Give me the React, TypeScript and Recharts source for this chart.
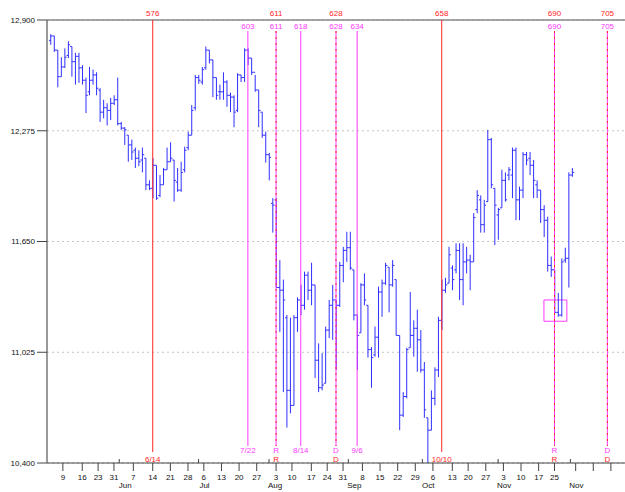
import {
  Bar,
  CartesianGrid,
  ComposedChart,
  ReferenceArea,
  ReferenceLine,
  XAxis,
  YAxis,
} from 'recharts';

// bar numbers run from firstBar, one per trading day
const firstBar = 547;

const highs = [
  12820, 12810, 12730, 12690, 12740, 12780, 12750, 12715, 12715, 12645,
  12575, 12635, 12620, 12605, 12515, 12450, 12430, 12460, 12475, 12575,
  12325, 12295, 12250, 12225, 12180, 12165, 12180, 12120, 11995, 12120,
  12080, 12025, 12065, 12180, 12210, 12110, 12065, 12100, 12185, 12270,
  12420, 12590, 12590, 12635, 12750, 12730, 12675, 12575, 12535, 12605,
  12560, 12490, 12475, 12600, 12590, 12740, 12740, 12685, 12590, 12505,
  12380, 12270, 12150, 11895, 11895, 11545, 11435, 11235, 11220, 11235,
  11335, 11405, 11480, 11480, 11530, 11405, 11075, 11020, 11170, 11320,
  11405, 11320, 11535, 11620, 11705, 11705, 11490, 11235, 11415, 11470,
  11290, 11055, 11170, 11395, 11435, 11530, 11505, 11545, 11435, 11120,
  10800, 11050, 11365, 11205, 11265, 11150, 10970, 10655, 10810, 10940,
  11225, 11435, 11445, 11620, 11515, 11640, 11640, 11640, 11620, 11575,
  11810, 11940, 11910, 11885, 12280, 12235, 11950, 11840, 12055, 12040,
  12070, 12180, 12180, 11960, 12155, 12155, 12155, 12110, 11995, 11940,
  11855, 11790, 11565, 11490, 11360, 11555, 11615, 12040, 12065,
];

const lows = [
  12760, 12720, 12520, 12580, 12630, 12685, 12580, 12535, 12545, 12535,
  12375, 12475, 12535, 12475, 12325, 12345, 12305, 12335, 12420, 12305,
  12280, 12195, 12100, 12110, 12065, 12075, 12040, 11940, 11940, 11895,
  11885, 11900, 11970, 12055, 12100, 11875, 11930, 11930, 12040, 12165,
  12250, 12390, 12540, 12535, 12620, 12655, 12465, 12450, 12450, 12450,
  12410, 12380, 12295, 12380, 12550, 12550, 12645, 12590, 12495, 12295,
  12235, 12095, 11995, 11700, 11390, 11140, 10800, 10600, 10680, 10725,
  11140, 11235, 11265, 11320, 11290, 10880, 10800, 10810, 10850, 11105,
  11095, 10925, 11280, 11420, 11535, 11490, 11205, 10925, 11135, 11290,
  10995, 10825, 11000, 10995, 11225, 11405, 11250, 11395, 11120, 10585,
  10660, 10765, 11050, 11000, 10915, 10910, 10655, 10305, 10585, 10725,
  10885, 11150, 11360, 11415, 11375, 11470, 11320, 11290, 11470, 11375,
  11535, 11810, 11700, 11700, 11875, 11950, 11630, 11660, 11840, 11875,
  11995, 11895, 11770, 11770, 11895, 12080, 12025, 11895, 11895, 11755,
  11675, 11480, 11450, 11245, 11225, 11225, 11530, 11390, 12015,
];

const opens = [
  12785, 12810, 12730, 12580, 12635, 12700, 12750, 12665, 12695, 12630,
  12560, 12495, 12560, 12590, 12505, 12380, 12405, 12390, 12430, 12450,
  12315, 12290, 12250, 12195, 12165, 12120, 12110, 12120, 11970, 11950,
  12080, 11910, 11970, 12055, 12100, 12110, 11985, 11940, 12055, 12180,
  12250, 12405, 12575, 12550, 12630, 12730, 12675, 12575, 12495, 12495,
  12550, 12475, 12465, 12390, 12590, 12575, 12730, 12685, 12605, 12505,
  12380, 12250, 12140, 11865, 11885, 11390, 11375, 11220, 10810, 10725,
  11220, 11320, 11290, 11460, 11375, 11405, 10980, 10825, 10850, 11150,
  11290, 11320, 11290, 11515, 11600, 11615, 11490, 11235, 11135, 11405,
  11290, 11040, 11010, 11110, 11365, 11415, 11505, 11405, 11435, 11120,
  10670, 10775, 11050, 11120, 11160, 11095, 10925, 10655, 10585, 10765,
  10925, 11205, 11375, 11415, 11500, 11490, 11600, 11435, 11535, 11545,
  11535, 11830, 11885, 11745, 11875, 12225, 11950, 11800, 11840, 11995,
  12025, 12025, 12165, 11885, 11940, 12140, 12120, 12080, 11970, 11940,
  11830, 11770, 11515, 11490, 11250, 11235, 11545, 11555, 12025,
];

const closes = [
  12810, 12730, 12580, 12635, 12690, 12760, 12665, 12695, 12630, 12560,
  12475, 12560, 12590, 12515, 12380, 12405, 12390, 12430, 12450, 12315,
  12290, 12280, 12195, 12155, 12120, 12100, 12140, 11970, 11950, 12080,
  11895, 11970, 12055, 12100, 12120, 11995, 11940, 12040, 12165, 12250,
  12390, 12575, 12560, 12620, 12730, 12675, 12575, 12475, 12495, 12550,
  12475, 12465, 12380, 12590, 12575, 12730, 12685, 12605, 12505, 12390,
  12250, 12140, 12125, 11855, 11390, 11375, 11320, 10810, 10725, 11220,
  11320, 11290, 11460, 11375, 11405, 10980, 10825, 10840, 11150, 11290,
  11320, 11290, 11515, 11600, 11615, 11500, 11235, 11120, 11405, 11320,
  11040, 10995, 11110, 11365, 11415, 11515, 11405, 11515, 11120, 10670,
  10775, 11040, 11120, 11160, 11095, 10925, 10700, 10585, 10765, 10925,
  11205, 11375, 11405, 11575, 11435, 11600, 11435, 11535, 11545, 11535,
  11785, 11910, 11745, 11855, 12225, 11970, 11855, 11830, 11995, 11885,
  12055, 12165, 11885, 11940, 12140, 12110, 12080, 11995, 11940, 11830,
  11770, 11515, 11490, 11250, 11235, 11535, 11555, 12025, 12040,
];

const yTicks = [10400, 11025, 11650, 12275, 12900];

// weekly ticks (bar positions) and their day labels
const weekTicks = [
  550.5, 556, 560.5, 565, 570.5, 576, 581, 586, 590.5, 595.5, 600.5, 605.5,
  611, 615.5, 621, 625.5, 630, 635.5, 640.5, 645.5, 650.5, 655.5, 661, 665.5,
  670.5, 675.5, 680.5, 685.5, 690, 696, 701, 706,
];
const weekLabels = [
  '9', '16', '23', '31', '7', '14', '21', '28', '6', '13', '20', '27',
  '3', '10', '17', '24', '31', '8', '15', '22', '29', '6', '13', '20',
  '27', '3', '10', '17', '25', '', '', '',
];
const monthTicks = [566.5, 589, 609, 631.5, 652.5, 674, 694.5];
const monthLabels = ['Jun', 'Jul', 'Aug', 'Sep', 'Oct', 'Nov', 'Nov'];

const redLines = [
  { bar: 576, top: '576', bottom: '6/14' },
  { bar: 611, top: '611', bottom: 'R' },
  { bar: 628, top: '628', bottom: 'D' },
  { bar: 658, top: '658', bottom: '10/10' },
  { bar: 690, top: '690', bottom: 'R' },
  { bar: 705, top: '705', bottom: 'D' },
];
const magentaLines = [
  { bar: 603, top: '603', bottom: '7/22' },
  { bar: 611, top: '611', bottom: 'R' },
  { bar: 618, top: '618', bottom: '8/14' },
  { bar: 628, top: '628', bottom: 'D' },
  { bar: 634, top: '634', bottom: '9/6' },
  { bar: 690, top: '690', bottom: 'R' },
  { bar: 705, top: '705', bottom: 'D' },
];

const RED = '#ff2424';
const MAGENTA = '#ff38ff';
const BLUE = '#2f2fff';
const FONT = '"Liberation Sans", Arial, sans-serif';

const data = highs.map((h, i) => ({
  bar: firstBar + i,
  open: opens[i],
  high: h,
  low: lows[i],
  close: closes[i],
  range: [lows[i], h],
}));

const OhlcShape = (props: any) => {
  const { x, y, width, height, payload } = props;
  if (x == null || y == null || !payload) return null;
  const cx = x + width / 2;
  const top = Math.min(y, y + height);
  const bottom = Math.max(y, y + height);
  const span = payload.high - payload.low || 1;
  const py = (v: number) => top + ((payload.high - v) / span) * (bottom - top);
  return (
    <g stroke={BLUE} strokeWidth={1} fill="none">
      <line x1={cx} x2={cx} y1={top} y2={bottom} />
      <line x1={cx - 1.8} x2={cx} y1={py(payload.open)} y2={py(payload.open)} />
      <line x1={cx} x2={cx + 1.8} y1={py(payload.close)} y2={py(payload.close)} />
    </g>
  );
};

const DateTick = (props: any) => {
  const { x, y, payload } = props;
  const v = payload.value;
  const wi = weekTicks.indexOf(v);
  if (wi >= 0) {
    return (
      <g>
        <line x1={x} x2={x} y1={y} y2={y + 8} stroke="#444" />
        <text x={x} y={y + 16.5} textAnchor="middle" fontSize={8} fill="#111">
          {weekLabels[wi]}
        </text>
      </g>
    );
  }
  const mi = monthTicks.indexOf(v);
  return (
    <g>
      <line x1={x} x2={x} y1={y - 4} y2={y} stroke="#444" />
      <text x={x + 6} y={y + 25} textAnchor="middle" fontSize={8} fill="#111">
        {monthLabels[mi]}
      </text>
    </g>
  );
};

// red marker: solid alone, dashed where it shares a bar with a magenta marker
const redShape = (top: string, bottom: string, shared: boolean) => (p: any) => {
  const y0 = Math.min(p.y1, p.y2);
  const y1 = Math.max(p.y1, p.y2);
  return (
    <g>
      <line
        x1={p.x1}
        x2={p.x1}
        y1={shared ? y0 + 11 : y0}
        y2={shared ? y1 - 17 : y1 - 11}
        stroke={RED}
        strokeDasharray={shared ? '2 4' : undefined}
      />
      <text x={p.x1} y={y0 - 4} textAnchor="middle" fontSize={8} fill={RED}>
        {top}
      </text>
      <text x={p.x1} y={y1 - 1} textAnchor="middle" fontSize={8} fill={RED}>
        {bottom}
      </text>
    </g>
  );
};

const magentaShape = (top: string, bottom: string) => (p: any) => {
  const y0 = Math.min(p.y1, p.y2);
  const y1 = Math.max(p.y1, p.y2);
  return (
    <g>
      <line x1={p.x1} x2={p.x1} y1={y0 + 11} y2={y1 - 17} stroke={MAGENTA} />
      <text x={p.x1} y={y0 + 9} textAnchor="middle" fontSize={8} fill={MAGENTA}>
        {top}
      </text>
      <text x={p.x1} y={y1 - 10} textAnchor="middle" fontSize={8} fill={MAGENTA}>
        {bottom}
      </text>
    </g>
  );
};

export default function App() {
  const magentaBars = magentaLines.map((m) => m.bar);
  return (
    <div
      style={{
        position: 'absolute',
        left: 0,
        top: 0,
        width: 625,
        height: 492,
        background: '#fff',
        fontFamily: FONT,
      }}
    >
      <ComposedChart
        width={625}
        height={492}
        data={data}
        margin={{ top: 20, right: 0, bottom: 0, left: 0 }}
      >
        <CartesianGrid vertical={false} stroke="#c4c4c4" strokeDasharray="2 3" />
        <XAxis
          dataKey="bar"
          type="number"
          domain={[546, 710]}
          allowDataOverflow
          ticks={[...weekTicks, ...monthTicks]}
          interval={0}
          tick={<DateTick />}
          tickLine={false}
          tickSize={0}
          tickMargin={0}
          height={29}
          axisLine={{ stroke: '#444' }}
        />
        <YAxis
          type="number"
          domain={[10400, 12900]}
          allowDataOverflow
          ticks={yTicks}
          interval={0}
          width={47}
          tickSize={10}
          tickMargin={2}
          tickFormatter={(v: number) => v.toLocaleString('en-US')}
          tick={{ fontSize: 8, fill: '#111' }}
          tickLine={{ stroke: '#444' }}
          axisLine={{ stroke: '#777', strokeWidth: 1.5 }}
        />
        <ReferenceLine y={12900} stroke="#888" strokeWidth={1.5} ifOverflow="visible" />
        <Bar
          dataKey="range"
          barSize={2}
          shape={OhlcShape}
          isAnimationActive={false}
        />
        {magentaLines.map((m) => (
          <ReferenceLine
            key={`m-${m.bar}`}
            x={m.bar}
            ifOverflow="visible"
            shape={magentaShape(m.top, m.bottom)}
          />
        ))}
        {redLines.map((r) => (
          <ReferenceLine
            key={`r-${r.bar}`}
            x={r.bar}
            ifOverflow="visible"
            shape={redShape(r.top, r.bottom, magentaBars.includes(r.bar))}
          />
        ))}
        <ReferenceArea
          x1={687}
          x2={693.5}
          y1={11200}
          y2={11320}
          fill="none"
          stroke={MAGENTA}
          ifOverflow="visible"
        />
      </ComposedChart>
    </div>
  );
}
